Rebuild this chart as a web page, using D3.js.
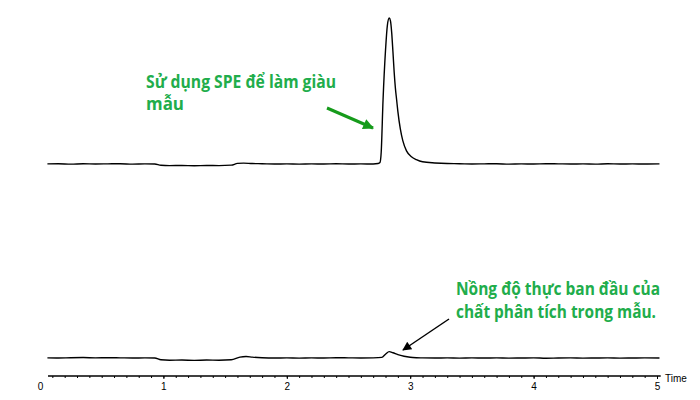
<!DOCTYPE html>
<html>
<head>
<meta charset="utf-8">
<script src="https://d3js.org/d3.v7.min.js"></script>
<style>
    body { margin: 0; background: #fff; }
    .axis text { font-family: "Liberation Sans", Arial, sans-serif; font-size: 10px; fill: #000; }
    .axis line { stroke: #000; }
    .trace { fill: none; stroke: #000; stroke-width: 1.4; stroke-linejoin: round; }
    .note { font-family: "Open Sans", "Noto Sans", sans-serif; font-weight: bold; font-size: 17px; fill: #21ad4b; }
</style>
</head>
<body>
<svg width="700" height="400"></svg>
<script>
    // enriched sample (SPE) trace
    var topTime = [0.06, 0.15, 0.25, 0.35, 0.45, 0.55, 0.65, 0.75, 0.85, 0.93, 0.98, 1.05, 1.15, 1.25, 1.35, 1.45, 1.55,
                   1.6, 1.65, 1.72, 1.8, 1.9, 2.0, 2.1, 2.2, 2.3, 2.4, 2.5, 2.6, 2.7, 2.74, 2.755, 2.765, 2.78, 2.8,
                   2.815, 2.83, 2.84, 2.85, 2.86, 2.87, 2.88, 2.89, 2.9, 2.92, 2.94, 2.97, 3.01, 3.05, 3.1, 3.2, 3.3,
                   3.4, 3.5, 3.6, 3.7, 3.8, 3.9, 4.0, 4.1, 4.2, 4.3, 4.4, 4.5, 4.6, 4.7, 4.8, 4.9, 5.02];
    var topSignal = [0.1, 0.2, -0.1, 0.2, 0.0, 0.1, 0.2, -0.1, 0.1, 0.0, -0.9, -1.1, -1.0, -1.2, -1.0, -1.1, -0.8,
                     0.4, 0.6, 0.3, 0.2, 0.0, 0.1, -0.1, 0.1, 0.0, 0.2, 0.0, 0.1, 0.0, 0.3, 1.0, 8, 44, 78,
                     95, 100, 98, 90, 77, 63, 52, 44, 36, 24, 16, 9, 5, 3, 1.5, 0.7, 0.3,
                     0.2, 0.0, 0.1, 0.2, -0.1, 0.1, 0.0, 0.2, 0.1, 0.0, 0.1, -0.1, 0.2, 0.0, 0.1, 0.0, 0.1];

    // original sample trace
    var botTime = [0.06, 0.15, 0.25, 0.35, 0.45, 0.55, 0.65, 0.75, 0.85, 0.93, 0.98, 1.05, 1.15, 1.25, 1.35, 1.45, 1.55,
                   1.62, 1.67, 1.72, 1.8, 1.9, 2.0, 2.1, 2.2, 2.3, 2.4, 2.5, 2.6, 2.7, 2.77, 2.8, 2.83, 2.86, 2.9,
                   2.95, 3.0, 3.05, 3.1, 3.2, 3.3, 3.4, 3.5, 3.6, 3.7, 3.8, 3.9, 4.0, 4.1, 4.2, 4.3, 4.4, 4.5, 4.6,
                   4.7, 4.8, 4.9, 5.02];
    var botSignal = [0.1, 0.0, 0.2, 0.3, 0.1, 0.2, 0.1, 0.0, 0.1, 0.0, -1.2, -1.5, -1.4, -1.6, -1.4, -1.5, -1.2,
                     0.6, 1.0, 0.6, 0.2, 0.0, 0.1, -0.1, 0.1, 0.0, 0.2, 0.1, 0.0, 0.1, 0.4, 2.6, 4.4, 3.6, 2.3,
                     1.2, 0.5, 0.2, 0.1, 0.0, 0.1, -0.1, 0.1, 0.0, 0.1, -0.1, 0.0, 0.1, -0.2, 0.0, 0.1, -0.1, 0.0, 0.1,
                     -0.1, 0.0, 0.1, 0.0];

    var majorTicks = [0, 1, 2, 3, 4, 5];
    var minorTicks = d3.range(1, 50).map(function(i) { return i / 10; });

    var svg = d3.select("svg");

    var x = d3.scaleLinear().domain([0, 5]).range([40, 657]);
    var yTop = d3.scaleLinear().domain([0, 100]).range([164, 18]);
    var yBot = d3.scaleLinear().domain([0, 100]).range([358, 212]);

    function trace(times, values, y) {
        var pts = times.map(function(t, i) { return [t, values[i]]; });
        return d3.line()
            .x(function(d) { return x(d[0]); })
            .y(function(d) { return y(d[1]); })
            .curve(d3.curveMonotoneX)(pts);
    }

    svg.append("path").attr("class", "trace").attr("d", trace(topTime, topSignal, yTop));
    svg.append("path").attr("class", "trace").attr("d", trace(botTime, botSignal, yBot));

    // time axis
    var axisY = 376;
    svg.append("line")
        .attr("x1", x(0.065)).attr("x2", x(5.03))
        .attr("y1", axisY).attr("y2", axisY)
        .attr("stroke", "#000").attr("stroke-width", 1.6);

    var minor = svg.append("g")
        .attr("class", "axis")
        .attr("transform", "translate(0," + axisY + ")")
        .call(d3.axisBottom(x).tickValues(minorTicks).tickSize(2).tickFormat(""));
    minor.select(".domain").remove();

    var major = svg.append("g")
        .attr("class", "axis")
        .attr("transform", "translate(0," + axisY + ")")
        .call(d3.axisBottom(x).tickValues(majorTicks).tickSize(3).tickPadding(4).tickFormat(d3.format("d")));
    major.select(".domain").remove();
    major.selectAll(".tick line").filter(function(d) { return d === 0; }).remove();

    svg.append("text")
        .attr("class", "axis")
        .attr("x", 665).attr("y", 382)
        .style("font-family", "Liberation Sans, Arial, sans-serif")
        .style("font-size", "10px")
        .text("Time");

    // arrows
    var defs = svg.append("defs");
    defs.append("marker")
        .attr("id", "headGreen")
        .attr("viewBox", "0 0 10 10")
        .attr("refX", 9).attr("refY", 5)
        .attr("markerWidth", 4.2).attr("markerHeight", 3.6)
        .attr("markerUnits", "strokeWidth")
        .attr("orient", "auto")
        .append("path").attr("d", "M0,0L10,5L0,10Z").attr("fill", "#169b1b");
    defs.append("marker")
        .attr("id", "headBlack")
        .attr("viewBox", "0 0 10 10")
        .attr("refX", 9).attr("refY", 5)
        .attr("markerWidth", 7).attr("markerHeight", 6)
        .attr("markerUnits", "strokeWidth")
        .attr("orient", "auto")
        .append("path").attr("d", "M0,0L10,5L0,10Z").attr("fill", "#000");

    svg.append("line")
        .attr("x1", 327).attr("y1", 108).attr("x2", 373).attr("y2", 128)
        .attr("stroke", "#169b1b").attr("stroke-width", 3)
        .attr("marker-end", "url(#headGreen)");

    svg.append("line")
        .attr("x1", 449).attr("y1", 319).attr("x2", 403).attr("y2", 350)
        .attr("stroke", "#000").attr("stroke-width", 1.5)
        .attr("marker-end", "url(#headBlack)");

    // notes
    var notes = [
        {text: "Sử dụng SPE để làm giàu", x: 146, y: 88, w: 190},
        {text: "mẫu", x: 146, y: 110, w: 38},
        {text: "Nồng độ thực ban đầu của", x: 456, y: 295, w: 204},
        {text: "chất phân tích trong mẫu.", x: 456, y: 318, w: 200}
    ];
    svg.selectAll(".note")
        .data(notes)
        .enter().append("text")
        .attr("class", "note")
        .attr("x", function(d) { return d.x; })
        .attr("y", function(d) { return d.y; })
        .attr("textLength", function(d) { return d.w; })
        .attr("lengthAdjust", "spacingAndGlyphs")
        .text(function(d) { return d.text; });
</script>
</body>
</html>
